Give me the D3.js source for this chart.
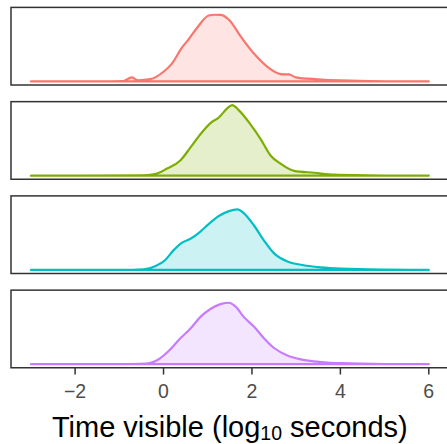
<!DOCTYPE html>
<html>
<head>
<meta charset="utf-8">
<script src="https://cdn.jsdelivr.net/npm/d3@7"></script>
<style>
  html, body { margin: 0; padding: 0; background: #fff; }
  svg { display: block; }
</style>
</head>
<body>
<svg id="chart" width="447" height="444"></svg>
<script>
// Density estimates of time visible (log10 seconds), one panel per group
const groups = ["A", "B", "C", "D"];
const groupColors = ["#F8766D", "#7CAE00", "#00BFC4", "#C77CFF"];

const xGrid1 = [-3, -1.5, -0.9, -0.8, -0.72, -0.63, -0.57, -0.3, 0, 0.19, 0.42, 0.57, 0.76, 1.02, 1.15, 1.29, 1.48, 1.74, 2.05, 2.35, 2.65, 2.78, 2.84, 2.99, 3.49, 4.0, 5.0, 6.0];
const dens1  = [0, 0.001, 0.004, 0.03, 0.045, 0.022, 0.013, 0.025, 0.105, 0.193, 0.368, 0.456, 0.579, 0.712, 0.72, 0.719, 0.666, 0.49, 0.298, 0.158, 0.08, 0.077, 0.076, 0.045, 0.024, 0.011, 0.002, 0];

const xGrid2 = [-3, -0.5, -0.19, 0.08, 0.38, 0.61, 0.83, 1.06, 1.25, 1.44, 1.55, 1.70, 1.97, 2.20, 2.42, 2.65, 2.95, 3.41, 3.86, 5.0, 6.0];
const dens2  = [0, 0.003, 0.018, 0.077, 0.165, 0.305, 0.445, 0.568, 0.628, 0.726, 0.761, 0.708, 0.551, 0.393, 0.218, 0.129, 0.053, 0.032, 0.011, 0.002, 0];

const xGrid3 = [-3, -0.7, -0.45, -0.19, 0.04, 0.23, 0.42, 0.61, 0.80, 1.02, 1.25, 1.48, 1.67, 1.82, 2.05, 2.27, 2.50, 2.80, 3.11, 3.56, 4.02, 5.0, 6.0];
const dens3  = [0, 0.002, 0.007, 0.039, 0.108, 0.214, 0.295, 0.337, 0.4, 0.495, 0.582, 0.635, 0.653, 0.611, 0.477, 0.319, 0.179, 0.092, 0.056, 0.028, 0.014, 0.003, 0];

const xGrid4 = [-3, -0.7, -0.38, -0.11, 0.15, 0.38, 0.61, 0.83, 1.06, 1.29, 1.48, 1.63, 1.82, 2.05, 2.27, 2.50, 2.80, 3.11, 3.56, 4.02, 5.0, 6.0];
const dens4  = [0, 0.002, 0.007, 0.053, 0.158, 0.28, 0.385, 0.508, 0.596, 0.648, 0.663, 0.621, 0.508, 0.403, 0.28, 0.175, 0.095, 0.053, 0.024, 0.011, 0.002, 0];

const xTicks = [-2, 0, 2, 4, 6];
const xTitle = "Time visible (log";
const xTitleSub = "10";
const xTitleEnd = " seconds)";

const series = [
  { x: xGrid1, y: dens1 },
  { x: xGrid2, y: dens2 },
  { x: xGrid3, y: dens3 },
  { x: xGrid4, y: dens4 }
];

const svg = d3.select("#chart");

// layout
const panelLeft = 11, panelRight = 448.7;
const panelTop0 = 7.4, panelH = 77.6, panelStep = 94.25;
const xMin = -3, xMax = 6;
const xPad = (xMax - xMin) * 0.05;

const x = d3.scaleLinear().domain([xMin - xPad, xMax + xPad]).range([panelLeft, panelRight]);

const yMax = d3.max(series, s => d3.max(s.y));
const yPad = yMax * 0.05;

const line = d3.line().curve(d3.curveMonotoneX);

series.forEach((s, i) => {
  const top = panelTop0 + i * panelStep;
  const bottom = top + panelH;
  const y = d3.scaleLinear().domain([-yPad, yMax + yPad]).range([bottom, top]);
  const g = svg.append("g");

  const pts = s.x.map((v, k) => [x(v), y(s.y[k])]);
  // closed outline: upper curve and baseline back to the start
  const d = line(pts) + "L" + x(s.x[0]) + "," + y(0) + "Z";

  g.append("path")
    .attr("d", d)
    .attr("fill", groupColors[i])
    .attr("fill-opacity", 0.2)
    .attr("stroke", groupColors[i])
    .attr("stroke-width", 2.2)
    .attr("stroke-linejoin", "round");

  g.append("rect")
    .attr("x", panelLeft)
    .attr("y", top)
    .attr("width", panelRight - panelLeft)
    .attr("height", panelH)
    .attr("fill", "none")
    .attr("stroke", "#333333")
    .attr("stroke-width", 1.5);
});

// x axis under the last panel
const axisY = panelTop0 + 3 * panelStep + panelH;
const axis = svg.append("g").attr("transform", `translate(0,${axisY})`);
axis.selectAll("line.tick")
  .data(xTicks)
  .join("line")
  .attr("class", "tick")
  .attr("x1", d => x(d)).attr("x2", d => x(d))
  .attr("y1", 0).attr("y2", 6.8)
  .attr("stroke", "#333333")
  .attr("stroke-width", 1.5);

axis.selectAll("text")
  .data(xTicks)
  .join("text")
  .attr("x", d => x(d))
  .attr("y", 30)
  .attr("text-anchor", "middle")
  .attr("font-family", "Liberation Sans, Arial, sans-serif")
  .attr("font-size", 19.5)
  .attr("fill", "#4D4D4D")
  .text(d => d < 0 ? "\u2212" + Math.abs(d) : String(d));

const title = svg.append("text")
  .attr("x", (panelLeft + panelRight) / 2)
  .attr("y", 436.8)
  .attr("text-anchor", "middle")
  .attr("font-family", "Liberation Sans, Arial, sans-serif")
  .attr("font-size", 29)
  .attr("fill", "#000");
title.append("tspan").text(xTitle);
title.append("tspan").attr("font-size", 19.5).attr("dy", 3.3).text(xTitleSub);
title.append("tspan").attr("dy", -3.3).text(xTitleEnd);
</script>
</body>
</html>
